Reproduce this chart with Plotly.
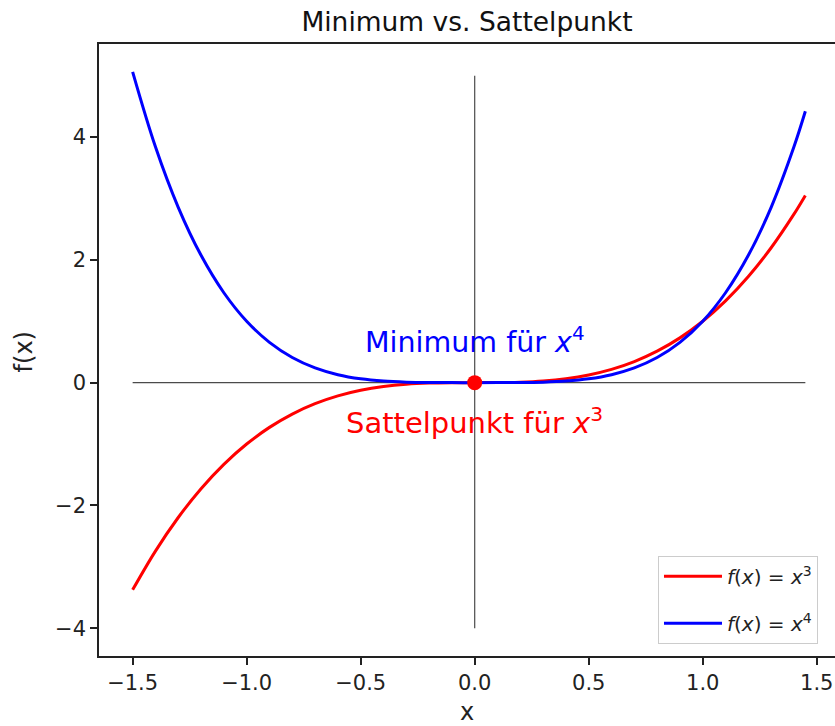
import plotly.graph_objects as go

# sample points
x_vals = [-1.5, -1.4, -1.3, -1.2, -1.1, -1.0, -0.9, -0.8, -0.7, -0.6, -0.5, -0.4, -0.3, -0.2, -0.1,
          0.0, 0.1, 0.2, 0.3, 0.4, 0.5, 0.6, 0.7, 0.8, 0.9, 1.0, 1.1, 1.2, 1.3, 1.4, 1.45]
y_cubic = [-3.375, -2.744, -2.197, -1.728, -1.331, -1.0, -0.729, -0.512, -0.343, -0.216, -0.125, -0.064,
           -0.027, -0.008, -0.001, 0.0, 0.001, 0.008, 0.027, 0.064, 0.125, 0.216, 0.343, 0.512, 0.729,
           1.0, 1.331, 1.728, 2.197, 2.744, 3.049]
y_quartic = [5.0625, 3.8416, 2.8561, 2.0736, 1.4641, 1.0, 0.6561, 0.4096, 0.2401, 0.1296, 0.0625, 0.0256,
             0.0081, 0.0016, 0.0001, 0.0, 0.0001, 0.0016, 0.0081, 0.0256, 0.0625, 0.1296, 0.2401, 0.4096,
             0.6561, 1.0, 1.4641, 2.0736, 2.8561, 3.8416, 4.4205]

vline_x = [0, 0]
vline_y = [-4, 5]
hline_x = [-1.5, 1.45]
hline_y = [0, 0]
point_x = [0]
point_y = [0]

label_min = {"x": 0, "y": 0.7, "text": "Minimum für <i>x</i><sup>4</sup>"}
label_saddle = {"x": 0, "y": -0.62, "text": "Sattelpunkt für <i>x</i><sup>3</sup>"}

x_ticks = [-1.5, -1.0, -0.5, 0.0, 0.5, 1.0, 1.5]
x_ticktext = ["−1.5", "−1.0", "−0.5", "0.0", "0.5", "1.0", "1.5"]
y_ticks = [-4, -2, 0, 2, 4]
y_ticktext = ["−4", "−2", "0", "2", "4"]

FONT = "DejaVu Sans"
TXT = "#222222"

fig = go.Figure()
fig.add_trace(go.Scatter(x=vline_x, y=vline_y, mode="lines",
                         line=dict(color="rgba(30,30,30,0.8)", width=1.2), showlegend=False, hoverinfo="skip"))
fig.add_trace(go.Scatter(x=hline_x, y=hline_y, mode="lines",
                         line=dict(color="rgba(30,30,30,0.8)", width=1.2), showlegend=False, hoverinfo="skip"))
fig.add_trace(go.Scatter(x=x_vals, y=y_cubic, mode="lines", line=dict(color="#ff0000", width=3, shape="spline"),
                         name="<i>f</i>(<i>x</i>) = <i>x</i><sup>3</sup>", legendgroup="a"))
fig.add_trace(go.Scatter(x=x_vals, y=y_quartic, mode="lines", line=dict(color="#0000ff", width=3, shape="spline"),
                         name="<i>f</i>(<i>x</i>) = <i>x</i><sup>4</sup>", legendgroup="b"))
fig.add_trace(go.Scatter(x=point_x, y=point_y, mode="markers", marker=dict(color="#ff0000", size=15),
                         showlegend=False))

fig.add_annotation(x=label_min["x"], y=label_min["y"], text=label_min["text"], showarrow=False,
                   font=dict(family=FONT, size=28.5, color="#0000ff"))
fig.add_annotation(x=label_saddle["x"], y=label_saddle["y"], text=label_saddle["text"], showarrow=False,
                   font=dict(family=FONT, size=29, color="#ff0000"))
# y-axis title placed like the reference
fig.add_annotation(xref="paper", yref="y", x=-0.1026, y=0.5, text="f(x)", textangle=-90, showarrow=False,
                   xanchor="center", yanchor="middle", font=dict(family=FONT, size=24, color=TXT))

fig.update_layout(
    width=835, height=726,
    margin=dict(l=99, r=0, t=44, b=70, autoexpand=False),
    paper_bgcolor="white", plot_bgcolor="white",
    font=dict(family=FONT, color=TXT),
    title=dict(text="Minimum vs. Sattelpunkt", x=0.5, xanchor="center", xref="paper",
               y=1 - 22 / 726, yanchor="middle", font=dict(size=26.5, color="#111111")),
    legend=dict(x=0.7595, y=0.02, xanchor="left", yanchor="bottom", bgcolor="white",
                bordercolor="#cccccc", borderwidth=1, font=dict(size=20, color=TXT),
                tracegroupgap=18, itemwidth=58),
    showlegend=True,
)
fig.update_xaxes(range=[-1.6475, 1.58], tickvals=x_ticks, ticktext=x_ticktext, ticks="outside", ticklen=7,
                 tickwidth=1.5, tickcolor=TXT, showline=True, linecolor=TXT, linewidth=1.6, mirror=True,
                 showgrid=False, zeroline=False, tickfont=dict(size=21), automargin=False,
                 title=dict(text="x", font=dict(size=24), standoff=10))
fig.update_yaxes(range=[-4.453, 5.516], tickvals=y_ticks, ticktext=y_ticktext, ticks="outside",
                 ticklen=7, tickwidth=1.5, tickcolor=TXT, showline=True, linecolor=TXT, linewidth=1.6,
                 showgrid=False, zeroline=False, tickfont=dict(size=21), automargin=False)

fig.write_html("out.html", config={"displayModeBar": False},
               post_script="document.body.style.margin='0px';document.body.style.overflow='hidden';")
